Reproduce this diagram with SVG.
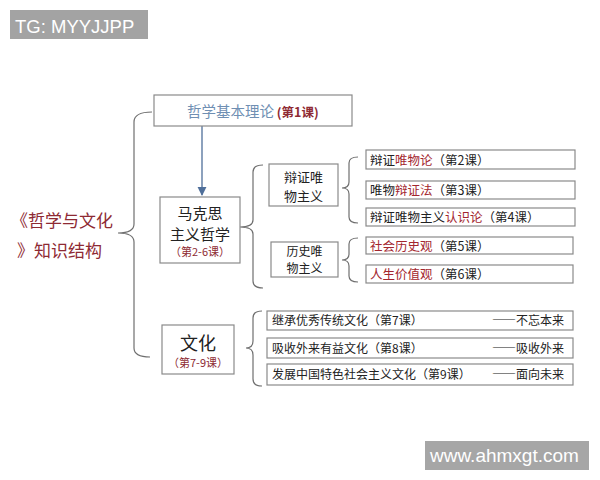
<svg xmlns="http://www.w3.org/2000/svg" width="600" height="480" viewBox="0 0 600 480">
<style>
text{font-family:"Noto Sans CJK SC","Liberation Sans",sans-serif;fill:#222}
.box{fill:#fff;stroke:#8a8a8a;stroke-width:1.2}
.br{fill:none;stroke:#6f6f6f;stroke-width:1.2}
.red{fill:#a3262e}
.dred{fill:#8e2a33}
.blue{fill:#6f8fb3}
.wm{font-family:"Liberation Sans",Arial,sans-serif;fill:#fff}
.it{font-size:12.5px}
.ct{font-size:12px}
.fw{font-feature-settings:"fwid"}
</style>
<defs>
<marker id="ah" viewBox="0 0 10 10" refX="9" refY="5" markerWidth="7" markerHeight="7" orient="auto">
<path d="M0,0 L10,5 L0,10 z" fill="#4f6f9a"/>
</marker>
</defs>
<rect width="600" height="480" fill="#fff"/>

<g id="watermark-top">
<rect x="10" y="10" width="138" height="29" fill="#a3a3a3"/>
<text class="wm" x="15" y="33" font-size="18.5">TG: MYYJJPP</text>
</g>

<g id="title">
<text x="11" y="227" font-size="17" class="dred">《哲学与文化</text>
<text x="17" y="257" font-size="17" class="dred">》知识结构</text>
</g>

<g id="connectors">
<path class="br" d="M152,112 Q134,112 134,122 L134,224 Q134,233 118,233 Q134,233 134,242 L134,348 Q134,357 150,357"/>
<line x1="202" y1="126" x2="202" y2="195" stroke="#4f6f9a" stroke-width="1.3" marker-end="url(#ah)"/>
<path class="br" d="M263,165 Q253,165 253,172 L253,220 Q253,227 240,227 Q253,227 253,234 L253,281 Q253,288 263,288"/>
<path class="br" d="M358,157 Q349,157 349,163 L349,182 Q349,188 342,188 Q349,188 349,194 L349,217 Q349,223 358,223"/>
<path class="br" d="M358,238 Q349,238 349,244 L349,254 Q349,260 342,260 Q349,260 349,266 L349,276 Q349,282 358,282"/>
<path class="br" d="M262,311 Q253,311 253,318 L253,341 Q253,348 246,348 Q253,348 253,355 L253,379 Q253,386 262,386"/>
</g>

<g id="node-basic">
<rect class="box" x="154" y="95" width="198" height="31"/>
<text x="187" y="117" font-size="14.5" class="blue">哲学基本理论<tspan class="dred" font-size="12.5" font-weight="bold"> (第1课)</tspan></text>
</g>

<g id="node-marx">
<rect class="box" x="160" y="197" width="80" height="66"/>
<text x="200" y="219" font-size="15" text-anchor="middle">马克思</text>
<text x="200" y="240" font-size="15" text-anchor="middle">主义哲学</text>
<text x="200" y="256" font-size="11" text-anchor="middle" class="dred">（第2-6课）</text>
</g>

<g id="node-culture">
<rect class="box" x="162" y="325" width="72" height="49"/>
<text x="198" y="350" font-size="18" text-anchor="middle">文化</text>
<text x="198" y="367" font-size="11" text-anchor="middle" class="dred">（第7-9课）</text>
</g>

<g id="node-dialectical">
<rect class="box" x="269" y="164" width="69" height="42"/>
<text x="303.5" y="182" font-size="13" text-anchor="middle">辩证唯</text>
<text x="303.5" y="201" font-size="13" text-anchor="middle">物主义</text>
</g>

<g id="node-historical">
<rect class="box" x="271" y="242" width="67" height="35"/>
<text x="304.5" y="255.5" font-size="12" text-anchor="middle">历史唯</text>
<text x="304.5" y="273.2" font-size="12" text-anchor="middle">物主义</text>
</g>

<g id="item-2">
<rect class="box" x="366" y="150" width="209" height="19"/>
<text class="it" x="370" y="164.5">辩证<tspan class="red">唯物论</tspan>（第2课）</text>
</g>
<g id="item-3">
<rect class="box" x="366" y="181" width="209" height="18"/>
<text class="it" x="370" y="195">唯物<tspan class="red">辩证法</tspan>（第3课）</text>
</g>
<g id="item-4">
<rect class="box" x="366" y="208" width="209" height="18"/>
<text class="it" x="370" y="222">辩证唯物主义<tspan class="red">认识论</tspan>（第4课）</text>
</g>
<g id="item-5">
<rect class="box" x="366" y="237" width="207" height="17"/>
<text class="it" x="370" y="250.5"><tspan class="red">社会历史观</tspan>（第5课）</text>
</g>
<g id="item-6">
<rect class="box" x="366" y="265" width="207" height="18"/>
<text class="it" x="370" y="278.5"><tspan class="red">人生价值观</tspan>（第6课）</text>
</g>

<g id="item-7">
<rect class="box" x="267" y="311" width="306" height="19"/>
<text class="ct" x="272" y="325">继承优秀传统文化（第7课）</text>
<text class="ct" x="564" y="325" text-anchor="end"><tspan class="fw">——</tspan>不忘本来</text>
</g>
<g id="item-8">
<rect class="box" x="267" y="338" width="306" height="20"/>
<text class="ct" x="272" y="352.5">吸收外来有益文化（第8课）</text>
<text class="ct" x="564" y="352.5" text-anchor="end"><tspan class="fw">——</tspan>吸收外来</text>
</g>
<g id="item-9">
<rect class="box" x="267" y="364" width="306" height="21"/>
<text class="ct" x="272" y="379">发展中国特色社会主义文化（第9课）</text>
<text class="ct" x="564" y="379" text-anchor="end"><tspan class="fw">——</tspan>面向未来</text>
</g>

<g id="watermark-bottom">
<rect x="425" y="441" width="164" height="29" fill="#a6a6a6"/>
<text class="wm" x="430" y="462" font-size="19">www.ahmxgt.com</text>
</g>
</svg>
